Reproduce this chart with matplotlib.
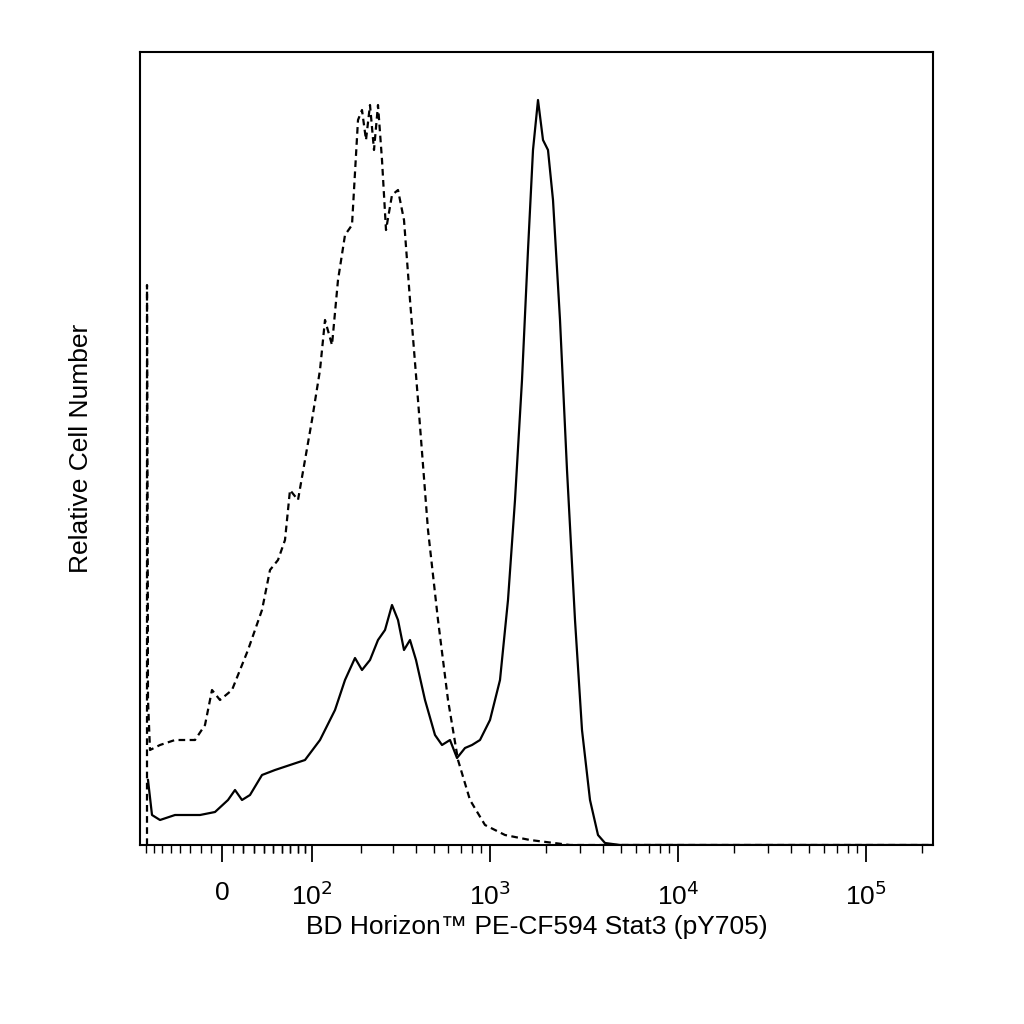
import numpy as np
import matplotlib
matplotlib.use("Agg")
import matplotlib.pyplot as plt

plt.rcParams['font.family'] = ['Liberation Sans', 'DejaVu Sans']

# x in display channels (0..786), y in relative counts
solid_x = [1,5,13,28,53,68,81,88,95,103,115,128,143,158,173,188,198,208,215,223,231,238,245,251,257,263,269,278,288,295,303,310,318,325,333,343,353,361,368,375,381,386,391,396,401,406,413,420,428,435,443,451,458,473,786]
solid_y = [65,30,25,30,30,33,45,55,45,50,70,75,80,85,105,135,165,187,175,185,205,215,240,225,195,205,185,145,110,100,105,87,97,100,105,125,165,245,345,465,595,695,745,705,695,645,525,375,225,115,45,10,2,0,0]
dash_x = [0,0,1,3,13,28,48,58,65,73,85,93,101,108,115,123,131,138,143,151,158,165,173,178,185,191,198,205,211,215,219,223,227,231,235,239,245,251,257,263,271,281,291,301,311,323,338,358,383,423,786]
dash_y = [0,560,145,95,100,105,105,120,155,145,155,175,195,215,235,275,285,305,355,345,385,425,475,525,500,565,610,620,725,735,705,740,695,740,685,615,650,655,625,545,445,315,225,145,85,45,20,10,5,0,0]
major_vals = [0, 1e2, 1e3, 1e4, 1e5]
major_labels = ["0", "10$^2$", "10$^3$", "10$^4$", "10$^5$"]

def chan(v):
    v = np.asarray(v, dtype=float)
    return 75 + 188 * np.arcsinh(v / 75.2) / np.log(10)

fig = plt.figure(figsize=(10.24, 10.24), dpi=100)
ax = fig.add_axes([140/1024, 1-845/1024, (933-140)/1024, (845-52)/1024])
ax.plot(solid_x, solid_y, color="black", lw=1.6)
ax.plot(dash_x, dash_y, color="black", lw=1.6, ls=(0, (3, 2)))
ax.set_xlim(-7, 786)
ax.set_ylim(0, 793)
ax.set_yticks([])

minor = [-v for v in range(10, 90, 10)]
for e in [1, 2, 3, 4]:
    minor += [m * 10**e for m in range(2, 10)]
minor += [10, 20, 30, 40, 50, 60, 70, 80, 90]
minor += [2e5]
ax.set_xticks(chan(major_vals))
ax.set_xticklabels(major_labels, fontsize=19)
ax.set_xticks(chan(minor), minor=True)
ax.tick_params(axis="x", which="major", direction="out", length=12, width=1.3, pad=14)
ax.tick_params(axis="x", which="minor", direction="out", length=6, width=1)
for s in ax.spines.values():
    s.set_linewidth(1.5)
ax.set_xlabel("BD Horizon\u2122 PE-CF594 Stat3 (pY705)", fontsize=19, labelpad=4)
ax.set_ylabel("Relative Cell Number", fontsize=19, labelpad=34)
fig.savefig("out.png", dpi=100)
